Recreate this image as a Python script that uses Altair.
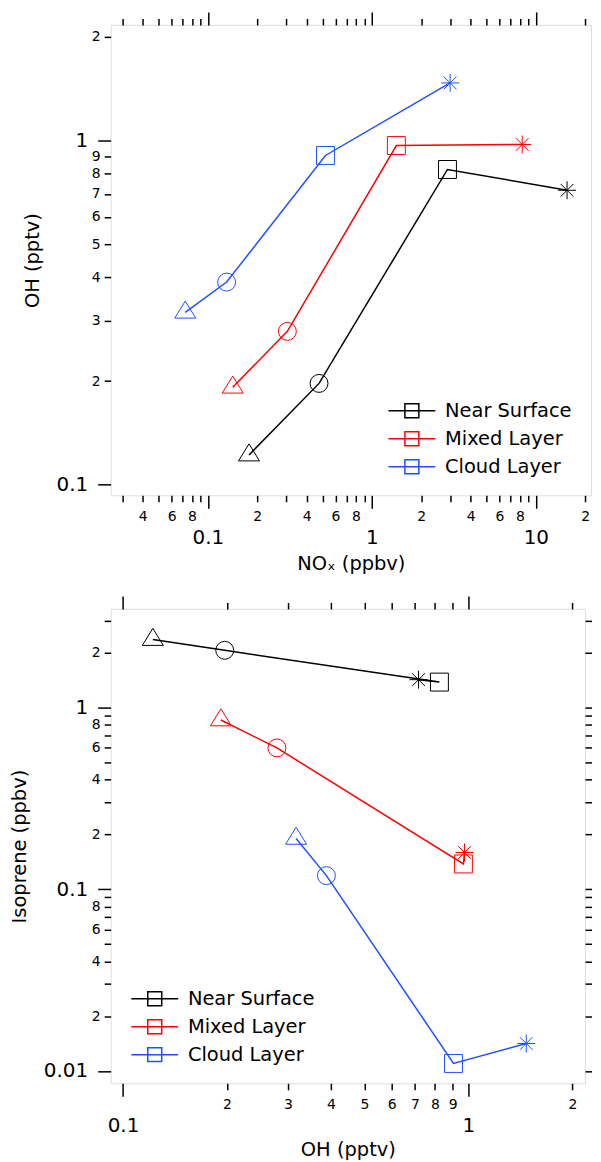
import altair as alt
import pandas as pd

# ---------------- data ----------------
series_names = ["Near Surface", "Mixed Layer", "Cloud Layer"]
series_colors = ["#000000", "#ff0000", "#1f4fff"]
marker_names = ["triangle", "circle", "square", "asterisk"]

nox_near = [0.178, 0.476, 2.89, 15.5]
nox_mixed = [0.1416, 0.305, 1.41, 8.26]
nox_cloud = [0.0727, 0.130, 0.521, 3.0]

oh_near = [0.122, 0.197, 0.824, 0.717]
oh_mixed = [0.192, 0.279, 0.967, 0.974]
oh_cloud = [0.317, 0.388, 0.905, 1.47]

iso_near = [2.36, 2.06, 1.377, 1.42]
iso_mixed = [0.852, 0.598, 0.1375, 0.159]
iso_cloud = [0.190, 0.1186, 0.01098, 0.01414]

# axis ticks and labels
top_x_ticks = [0.03, 0.04, 0.05, 0.06, 0.07, 0.08, 0.09,
               0.1, 0.2, 0.3, 0.4, 0.5, 0.6, 0.7, 0.8, 0.9,
               1, 2, 3, 4, 5, 6, 7, 8, 9, 10, 20]
top_x_labels = ["", "4", "", "6", "", "8", "",
                "0.1", "2", "", "4", "", "6", "", "8", "",
                "1", "2", "", "4", "", "6", "", "8", "", "10", "2"]
top_y_ticks = [0.1, 0.2, 0.3, 0.4, 0.5, 0.6, 0.7, 0.8, 0.9, 1, 2]
top_y_labels = ["0.1", "2", "3", "4", "5", "6", "7", "8", "9", "1", "2"]
bot_x_ticks = [0.1, 0.2, 0.3, 0.4, 0.5, 0.6, 0.7, 0.8, 0.9, 1, 2]
bot_x_labels = ["0.1", "2", "3", "4", "5", "6", "7", "8", "9", "1", "2"]
bot_y_ticks = [0.01, 0.02, 0.03, 0.04, 0.05, 0.06, 0.07, 0.08, 0.09,
               0.1, 0.2, 0.3, 0.4, 0.5, 0.6, 0.7, 0.8, 0.9, 1, 2, 3]
bot_y_labels = ["0.01", "2", "", "4", "", "6", "", "8", "",
                "0.1", "2", "", "4", "", "6", "", "8", "", "1", "2", ""]
major_ticks = [0.01, 0.1, 1, 10]

top_x_domain = [0.0255, 21.7]
top_y_domain = [0.0932, 2.167]
bot_x_domain = [0.0921, 2.175]
bot_y_domain = [0.00854, 3.48]

# ---------------- table ----------------
rows = []
for name, nox, oh, iso in zip(series_names,
                              [nox_near, nox_mixed, nox_cloud],
                              [oh_near, oh_mixed, oh_cloud],
                              [iso_near, iso_mixed, iso_cloud]):
    for i, m in enumerate(marker_names):
        rows.append({"series": name, "marker": m, "idx": i,
                     "nox": nox[i], "oh": oh[i], "iso": iso[i]})
df = pd.DataFrame(rows)

FONT = "DejaVu Sans"
is_major = "indexof(%s, datum.value) >= 0" % str(major_ticks)


def cond(a, b):
    return {"condition": {"test": is_major, "value": a}, "value": b}


def label_expr(ticks, labels):
    return "%s[indexof(%s, datum.value)]" % (
        "[" + ",".join("'%s'" % l for l in labels) + "]", str(ticks))


def main_axis(ticks, labels, orient, title, major_pad, minor_pad, title_pad):
    return alt.Axis(
        orient=orient, values=ticks, labelExpr=label_expr(ticks, labels),
        title=title, titleFont=FONT, titleFontSize=19.5, titleFontWeight="normal",
        titleColor="black", titlePadding=title_pad,
        labelFont=FONT, labelColor="black",
        labelFontSize=cond(20, 14), labelPadding=cond(major_pad, minor_pad),
        labelOverlap=False, labelFlush=False, labelBound=False,
        tickSize=cond(13, 6.5), tickWidth=1.5, tickColor="black",
        domain=False, grid=False,
    )


def mirror_axis(ticks, orient, major=13, minor=6.5):
    return alt.Axis(
        orient=orient, values=ticks, labels=False, title=None,
        ticks=major > 0,
        tickSize=cond(major, minor), tickWidth=1.5, tickColor="black",
        domain=False, grid=False, minExtent=0, maxExtent=major,
    )


color_scale = alt.Scale(domain=series_names, range=series_colors)
shape_scale = alt.Scale(
    domain=marker_names,
    range=["M0,-1.25L1.17,0.65L-1.17,0.65Z",
           "circle",
           "M-1,-1H1V1H-1Z",
           "M0,-1V1M-1,0H1M-0.71,-0.71L0.71,0.71M-0.71,0.71L0.71,-0.71"])

legend_path = "M-3.36,0H3.36M-1,-1H1V1H-1Z"


def panel(xf, yf, xdom, ydom, xticks, xlabels, yticks, ylabels,
          xtitle, ytitle, lx, ly, w, h, right_major, right_minor, xtitle_pad):
    xs = alt.Scale(type="log", domain=xdom, nice=False)
    ys = alt.Scale(type="log", domain=ydom, nice=False)
    base = alt.Chart(df)
    lines = base.mark_line(strokeWidth=1.5).encode(
        x=alt.X(xf + ":Q", scale=xs,
                axis=main_axis(xticks, xlabels, "bottom", xtitle, 19, 7.5, xtitle_pad)),
        y=alt.Y(yf + ":Q", scale=ys,
                axis=main_axis(yticks, ylabels, "left", ytitle, 10, 4, 14)),
        color=alt.Color("series:N", scale=color_scale, sort=series_names,
                        legend=alt.Legend(
                            orient="none", legendX=lx, legendY=ly, title=None,
                            symbolType=legend_path, symbolSize=196,
                            symbolStrokeWidth=1.5, symbolFillColor="transparent",
                            labelFont=FONT, labelFontSize=19.5, labelColor="black",
                            labelOffset=23.5, rowPadding=7, padding=0,
                            labelLimit=300)),
        order="idx:O",
    )
    points = base.mark_point(filled=False, size=324, strokeWidth=1,
                             opacity=1).encode(
        x=alt.X(xf + ":Q", scale=xs, axis=None),
        y=alt.Y(yf + ":Q", scale=ys, axis=None),
        color=alt.Color("series:N", scale=color_scale, legend=None),
        shape=alt.Shape("marker:N", scale=shape_scale, legend=None),
    )
    mirror = base.mark_point(opacity=0).encode(
        x=alt.X(xf + ":Q", scale=xs, axis=mirror_axis(xticks, "top")),
        y=alt.Y(yf + ":Q", scale=ys,
                axis=mirror_axis(yticks, "right", right_major, right_minor)),
    )
    return alt.layer(lines, points, mirror).resolve_axis(
        x="independent", y="independent").properties(width=w, height=h)


top = panel("nox", "oh", top_x_domain, top_y_domain, top_x_ticks, top_x_labels,
            top_y_ticks, top_y_labels, "NOₓ (ppbv)", "OH (pptv)",
            292.5, 377.5, 482, 472, 0, 0, 7)
bottom = panel("oh", "iso", bot_x_domain, bot_y_domain, bot_x_ticks, bot_x_labels,
               bot_y_ticks, bot_y_labels, "OH (pptv)", "Isoprene (ppbv)",
               34.5, 381.5, 476, 476, 6.5, 6.5, 5)

chart = alt.vconcat(top, bottom, spacing=21).resolve_scale(
    color="independent", shape="independent", x="independent", y="independent"
).resolve_legend(color="independent").properties(
    padding={"left": 0, "top": 0, "right": 0, "bottom": 0}
).configure_view(stroke="black", strokeWidth=1.5).configure(font=FONT)

chart.save("out.html", embed_options={"renderer": "svg", "actions": False})
